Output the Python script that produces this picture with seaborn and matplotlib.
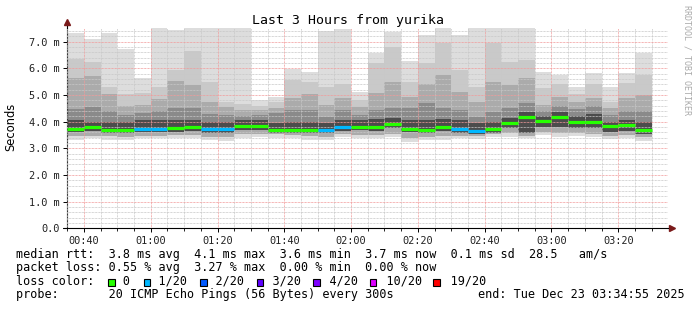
import numpy as np
import pandas as pd
import matplotlib
matplotlib.use("Agg")
import matplotlib.pyplot as plt
from matplotlib.patches import Rectangle
from matplotlib.ticker import FixedLocator, MultipleLocator
import seaborn as sns

# ---------------- data ----------------
# start of each 5-minute probe round, minutes after 00:00
bar_start = [35, 40, 45, 50, 55, 60, 65, 70, 75, 80, 85, 90, 95, 100, 105, 110, 115, 120,
             125, 130, 135, 140, 145, 150, 155, 160, 165, 170, 175, 180, 185, 190, 195, 200, 205]
# smoke levels (ms): upper edges from outermost (lightest) to innermost (darkest)
smoke_top = [7.31, 7.10, 7.31, 6.72, 5.65, 7.80, 7.43, 7.80, 7.80, 7.80, 7.80, 4.81, 4.93, 5.97, 5.85, 7.40, 7.47, 5.12,
             6.58, 7.37, 6.27, 7.25, 7.80, 7.25, 7.80, 7.80, 7.80, 7.80, 5.87, 5.75, 5.30, 5.84, 5.30, 5.84, 6.56]
smoke_u2 = [6.35, 6.25, 5.31, 5.03, 5.06, 5.30, 5.94, 6.65, 5.50, 4.75, 4.65, 4.60, 4.75, 5.56, 5.50, 5.31, 5.43, 4.80,
            6.19, 6.81, 5.50, 6.19, 6.94, 5.94, 5.31, 6.94, 6.25, 6.31, 5.25, 5.43, 5.03, 5.41, 4.75, 5.43, 5.75]
smoke_u3 = [5.65, 5.71, 5.03, 4.60, 4.62, 4.86, 5.52, 5.37, 4.75, 4.53, 4.45, 4.45, 4.50, 4.87, 5.03, 4.62, 4.87, 4.56,
            5.06, 5.50, 4.94, 5.43, 5.75, 5.12, 4.75, 5.50, 5.37, 5.62, 4.62, 4.94, 4.75, 4.87, 4.50, 4.87, 5.00]
smoke_u4 = [4.46, 4.53, 4.40, 4.25, 4.31, 4.40, 4.50, 4.50, 4.30, 4.25, 4.20, 4.25, 4.31, 4.44, 4.44, 4.19, 4.44, 4.25,
            4.44, 4.50, 4.50, 4.69, 4.50, 4.44, 4.19, 4.37, 4.50, 4.69, 4.40, 4.60, 4.46, 4.60, 4.25, 4.40, 4.40]
smoke_u5 = [4.06, 4.00, 4.00, 4.00, 4.06, 4.06, 4.05, 4.05, 3.98, 4.00, 4.05, 4.05, 3.95, 4.00, 4.00, 3.95, 4.06, 4.05,
            4.10, 4.15, 4.05, 4.05, 4.10, 4.05, 3.95, 4.00, 4.15, 4.35, 4.20, 4.35, 4.20, 4.30, 4.00, 4.05, 4.00]
# lower edges (ms)
smoke_bottom = [3.33, 3.37, 3.33, 3.31, 3.37, 3.37, 3.40, 3.37, 3.31, 3.29, 3.40, 3.42, 3.40, 3.37, 3.33, 3.31, 3.42, 3.37,
                3.37, 3.44, 3.25, 3.31, 3.31, 3.37, 3.34, 3.44, 3.44, 3.37, 3.50, 3.44, 3.46, 3.42, 3.34, 3.37, 3.29]
smoke_d2 = [3.45, 3.48, 3.45, 3.44, 3.48, 3.48, 3.50, 3.49, 3.44, 3.42, 3.52, 3.55, 3.52, 3.49, 3.45, 3.44, 3.53, 3.49,
            3.49, 3.55, 3.40, 3.44, 3.45, 3.48, 3.46, 3.55, 3.57, 3.48, 3.62, 3.56, 3.58, 3.55, 3.46, 3.50, 3.42]
smoke_d3 = [3.60, 3.64, 3.56, 3.58, 3.60, 3.60, 3.63, 3.65, 3.58, 3.58, 3.70, 3.70, 3.56, 3.56, 3.58, 3.56, 3.65, 3.67,
            3.65, 3.75, 3.60, 3.57, 3.66, 3.58, 3.53, 3.58, 3.76, 3.56, 3.81, 3.81, 3.75, 3.75, 3.62, 3.66, 3.52]
median_rtt = [3.73, 3.79, 3.67, 3.70, 3.71, 3.72, 3.76, 3.79, 3.71, 3.72, 3.85, 3.85, 3.67, 3.67, 3.70, 3.67, 3.79, 3.81,
              3.79, 3.90, 3.73, 3.69, 3.80, 3.71, 3.65, 3.71, 3.94, 4.16, 4.02, 4.16, 3.99, 3.99, 3.84, 3.87, 3.69]
loss = ["0", "0", "0", "0", "1/20", "1/20", "0", "0", "1/20", "1/20", "0", "0", "0", "0", "0", "1/20", "1/20", "0",
        "0", "0", "0", "0", "0", "1/20", "1/20", "0", "0", "0", "0", "0", "0", "0", "0", "0", "0"]

loss_levels = ["0", "1/20", "2/20", "3/20", "4/20", "10/20", "19/20"]
loss_palette = ["#26ff00", "#00b8ff", "#0059ff", "#5e00ff", "#7e00ff", "#dd00ff", "#ff0000"]

tick_minutes = [40, 60, 80, 100, 120, 140, 160, 180, 200]
tick_labels = ["00:40", "01:00", "01:20", "01:40", "02:00", "02:20", "02:40", "03:00", "03:20"]
y_ticks = [0, 1, 2, 3, 4, 5, 6, 7]
y_labels = ["0.0", "1.0 m", "2.0 m", "3.0 m", "4.0 m", "5.0 m", "6.0 m", "7.0 m"]

legend_lines = [
    "median rtt:  3.8 ms avg  4.1 ms max  3.6 ms min  3.7 ms now  0.1 ms sd  28.5   am/s",
    "packet loss: 0.55 % avg  3.27 % max  0.00 % min  0.00 % now",
    "loss color:    0    1/20    2/20    3/20    4/20    10/20    19/20",
    "probe:       20 ICMP Echo Pings (56 Bytes) every 300s",
]
square_cols = [13, 18, 26, 34, 42, 50, 59]
end_text = "end: Tue Dec 23 03:34:55 2025"

# ---------------- figure ----------------
sns.set_theme(style="white")
plt.rcParams['font.family'] = ['DejaVu Sans Mono', 'DejaVu Sans']

W, H = 697, 310
fig = plt.figure(figsize=(W / 100, H / 100), dpi=100)
fig.patch.set_facecolor("white")
x0, x1, ytop, ybot = 67, 668, 28.3, 228.3
ax = fig.add_axes([x0 / W, 1 - ybot / H, (x1 - x0) / W, (ybot - ytop) / H])
ax.set_facecolor("white")

start = np.array(bar_start, dtype=float)
centers = start + 2.5

bands = [
    (smoke_bottom, smoke_top, "#dddddd"),
    (smoke_d2, smoke_u2, "#c9c9c9"),
    (smoke_d2, smoke_u3, "#ababab"),
    (smoke_d3, smoke_u4, "#8a8a8a"),
    (smoke_d3, smoke_u5, "#4c4c4c"),
]
for lo, hi, col in bands:
    lo = np.array(lo)
    hi = np.array(hi)
    df = pd.DataFrame({"t": centers, "h": hi - lo})
    sns.barplot(data=df, x="t", y="h", native_scale=True, width=1, bottom=lo,
                color=col, saturation=1, errorbar=None, linewidth=0, ax=ax, zorder=1)

# median lines coloured by loss
pal = dict(zip(loss_levels, loss_palette))
ax.hlines(median_rtt, start, start + 5, colors=[pal[l] for l in loss], lw=2.3, zorder=4,
          capstyle="butt")

ax.set_xlim(34 + 55 / 60, 214 + 55 / 60)
ax.set_ylim(0, 7.5)
ax.xaxis.set_major_locator(FixedLocator(tick_minutes))
ax.set_xticklabels(tick_labels)
ax.xaxis.set_minor_locator(MultipleLocator(5))
ax.yaxis.set_major_locator(FixedLocator(y_ticks))
ax.set_yticklabels(y_labels)
ax.yaxis.set_minor_locator(MultipleLocator(0.2))
ax.set_xlabel("")
ax.set_ylabel("")

ax.grid(which="minor", color="#c8c8c8", linestyle=(0, (0.72, 0.72)), lw=0.72)
ax.grid(which="major", color="#f29a9a", linestyle=(0, (0.72, 0.72)), lw=0.72)
ax.set_axisbelow(False)

ax.tick_params(which="both", bottom=True, left=True, direction="out", color="black")
ax.tick_params(which="major", length=3, width=0.7, labelsize=7.4, pad=2.5, labelcolor="#222222")
ax.tick_params(axis="x", which="minor", length=2, width=0.6)
ax.tick_params(axis="y", which="minor", length=0)

for s in ["top", "right"]:
    ax.spines[s].set_visible(False)
for s in ["left", "bottom"]:
    ax.spines[s].set_color("black")
    ax.spines[s].set_linewidth(0.8)

# axis arrows
ax.plot([0, 0], [1, 1.035], transform=ax.transAxes, clip_on=False, color="black", lw=0.8)
ax.plot([0], [1.03], marker="^", ms=4.5, color="#7a1a1a", transform=ax.transAxes, clip_on=False)
ax.plot([-4 / 601, 0], [0, 0], transform=ax.transAxes, clip_on=False, color="black", lw=0.8)
ax.plot([1.006], [0], marker=">", ms=4.5, color="#7a1a1a", transform=ax.transAxes, clip_on=False)

# title & labels
fig.text(347.5 / W, 1 - 24 / H, "Last 3 Hours from yurika", ha="center", va="baseline",
         fontsize=9.5, color="black")
fig.text(11 / W, 1 - 127 / H, "Seconds", rotation=90, ha="center", va="center",
         fontsize=8.3, family=["DejaVu Sans"], color="black")
fig.text(687 / W, 1 - 60 / H, "RRDTOOL / TOBI OETIKER", rotation=270, ha="center", va="center",
         fontsize=6, color="#aaaaaa")

# legend block
fs = 8.45
cw = fs / 72 * 100 * 0.6021
baselines = [258, 271.3, 284.7, 298]
for line, yb in zip(legend_lines, baselines):
    fig.text(16 / W, 1 - yb / H, line, ha="left", va="baseline", fontsize=fs, color="black")
fig.text(478 / W, 1 - 298 / H, end_text, ha="left", va="baseline", fontsize=fs, color="black")

sq = 6.5
for col_idx, c in zip(square_cols, loss_palette):
    xl = 16 + col_idx * cw + 0.4
    yb = 285.6
    fig.patches.append(Rectangle((xl / W, 1 - yb / H), sq / W, sq / H, transform=fig.transFigure,
                                 facecolor=c, edgecolor="black", lw=0.8, figure=fig))

fig.savefig("out.png", dpi=100, facecolor="white")
